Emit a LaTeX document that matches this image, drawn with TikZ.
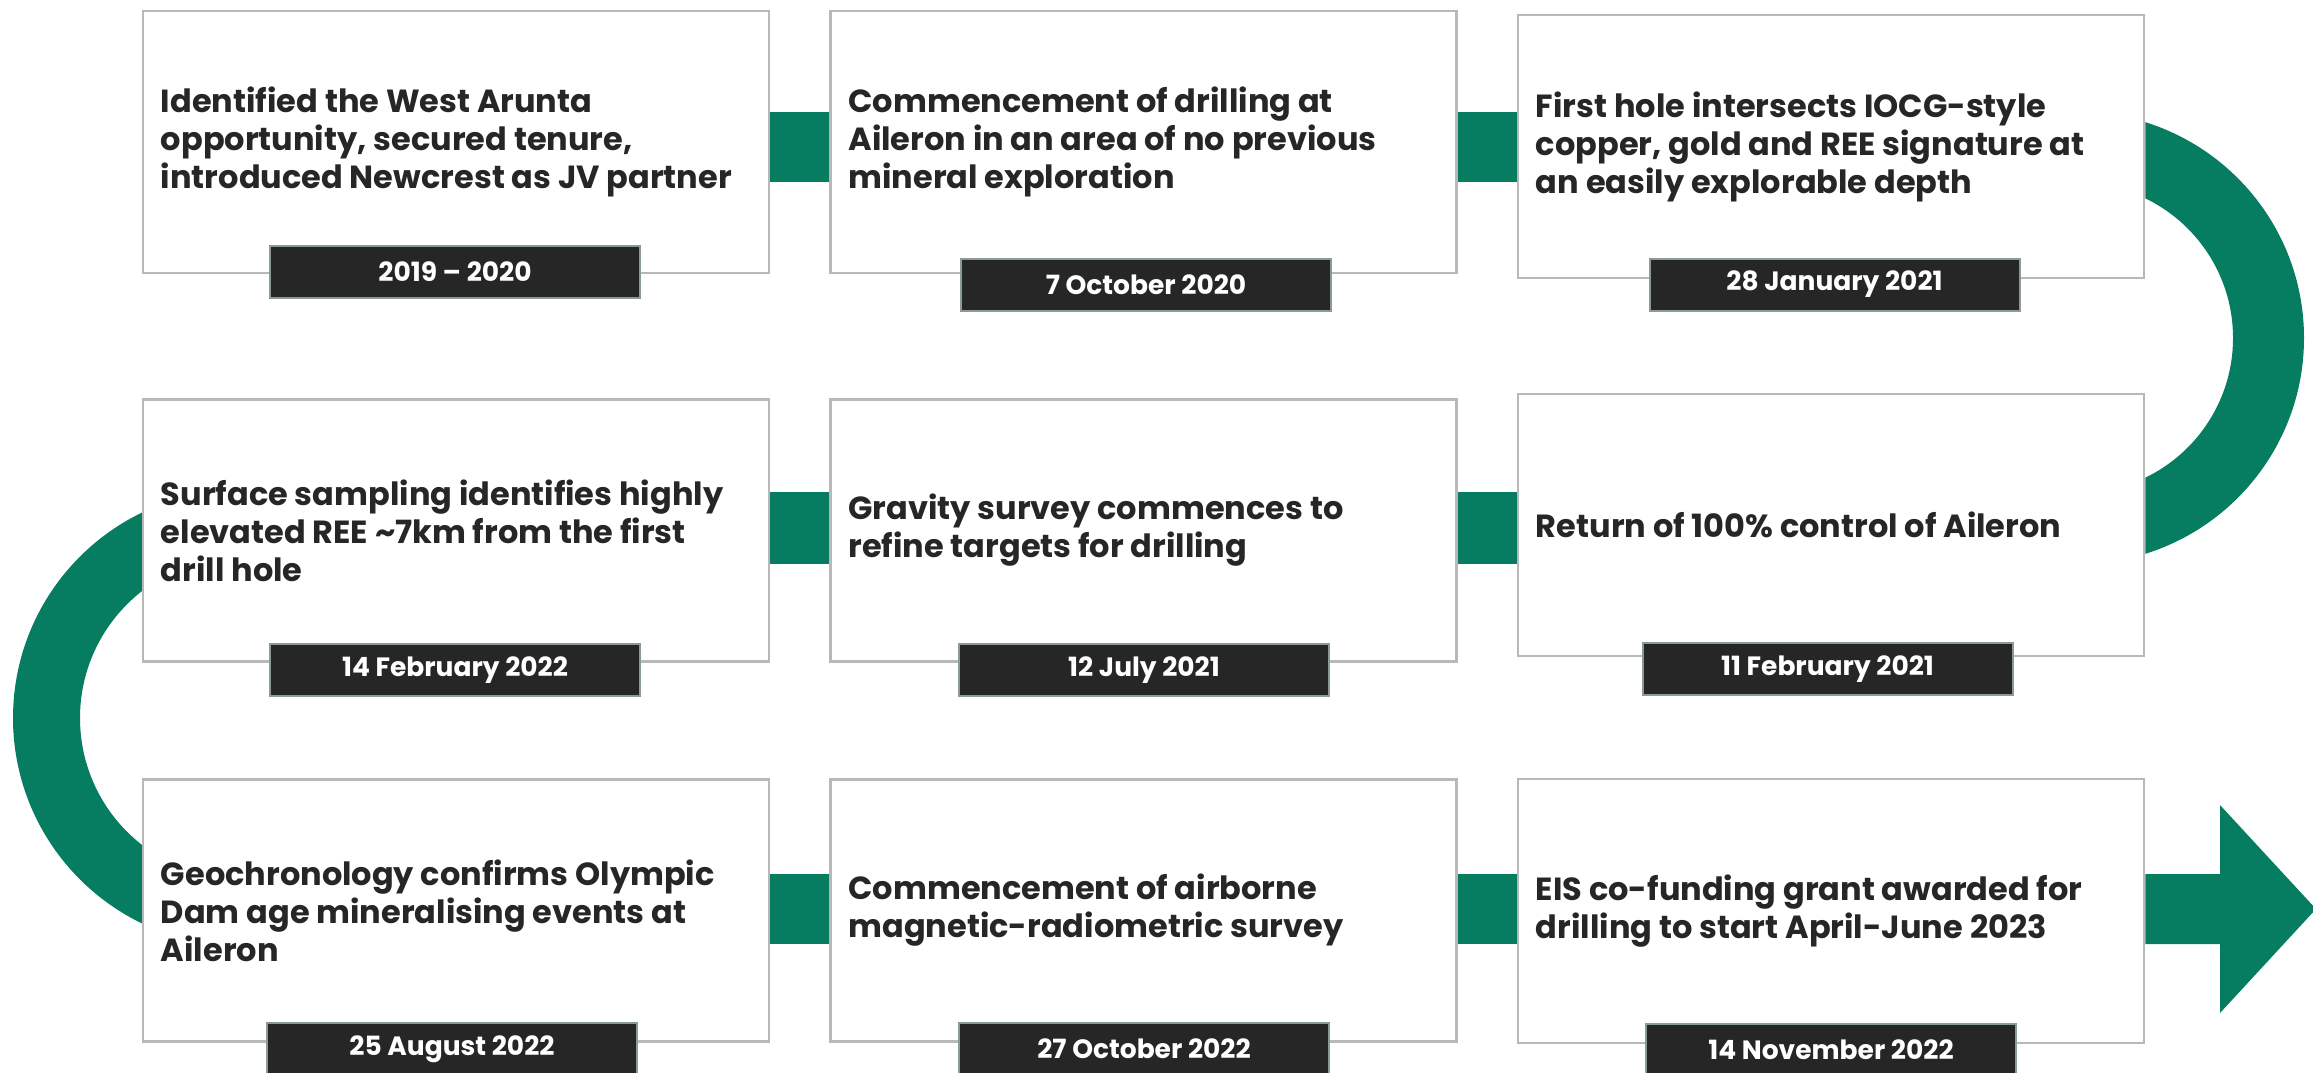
\documentclass[tikz,border=0pt]{standalone}
\usepackage{fontspec}
\setmainfont{Poppins}
\definecolor{tlgreen}{HTML}{067C61}
\definecolor{boxgray}{HTML}{B8B8B8}
\definecolor{dategray}{HTML}{8B9B8F}
\definecolor{datebg}{HTML}{262626}
\definecolor{txtdark}{HTML}{262626}
\tikzset{
  evbox/.style={draw=boxgray, line width=2.5pt, fill=white, minimum width=626pt, minimum height=262pt, inner sep=0pt},
  evtext/.style={anchor=west, align=left, font=\fontsize{32}{38}\selectfont\bfseries, text=txtdark, inner sep=0pt},
  datebox/.style={draw=dategray, line width=2pt, fill=datebg, minimum width=370pt, minimum height=52pt, inner sep=0pt, text=white, font=\fontsize{26.5}{30}\selectfont\bfseries},
  link/.style={fill=tlgreen}
}
\begin{document}
\begin{tikzpicture}[x=1pt,y=-1pt]
\useasboundingbox (0,0) rectangle (2313,1073);
% box outlines (positions)
\node[evbox] (b1) at (456,142) {};
\node[evbox] (b2) at (1143.5,142) {};
\node[evbox, minimum height=263pt] (b3) at (1831,146.5) {};
\node[evbox] (b4) at (456,530.5) {};
\node[evbox] (b5) at (1143.5,530.5) {};
\node[evbox] (b6) at (1831,525) {};
\node[evbox] (b7) at (456,910.5) {};
\node[evbox] (b8) at (1143.5,910.5) {};
\node[evbox, minimum height=264pt] (b9) at (1831,911) {};
% row levels
\coordinate (top) at (0,0);
\coordinate (r1t) at (0,112); \coordinate (r1b) at (0,182);
\coordinate (r2t) at (0,492); \coordinate (r2b) at (0,564);
\coordinate (r3t) at (0,874); \coordinate (r3b) at (0,944);
% rings
\begin{scope}
  \clip (b3.east |- top) rectangle (2313,700);
  \fill[link, even odd rule] (2078,338) circle (226pt) (2078,338) circle (155pt);
\end{scope}
\begin{scope}
  \clip (0,380) rectangle (b4.west |- r3b);
  \fill[link, even odd rule] (241,718) circle (228pt) (241,718) circle (161pt);
\end{scope}
% connectors
\fill[link] (b1.east |- r1t) rectangle (b2.west |- r1b);
\fill[link] (b2.east |- r1t) rectangle (b3.west |- r1b);
\fill[link] (b4.east |- r2t) rectangle (b5.west |- r2b);
\fill[link] (b5.east |- r2t) rectangle (b6.west |- r2b);
\fill[link] (b7.east |- r3t) rectangle (b8.west |- r3b);
\fill[link] (b8.east |- r3t) rectangle (b9.west |- r3b);
\coordinate (ah) at (2220,909);
\fill[link] (b9.east |- r3t) -- (ah |- r3t) -- (2220,805) -- (2316,909) -- (2220,1013) -- (ah |- r3b) -- (b9.east |- r3b) -- cycle;
% boxes on top
\node[evbox] at (b1) {};
\node[evbox] at (b2) {};
\node[evbox, minimum height=263pt] at (b3) {};
\node[evbox] at (b4) {};
\node[evbox] at (b5) {};
\node[evbox] at (b6) {};
\node[evbox] at (b7) {};
\node[evbox] at (b8) {};
\node[evbox, minimum height=264pt] at (b9) {};
% texts
\node[evtext] (t1) at ([xshift=19pt]b1.west) {Identified the West Arunta\\opportunity, secured tenure,\\introduced Newcrest as JV partner};
\node[evtext] (t2) at ([xshift=19pt]b2.west) {Commencement of drilling at\\Aileron in an area of no previous\\mineral exploration};
\node[evtext] (t3) at ([xshift=19pt]b3.west) {First hole intersects IOCG-style\\copper, gold and REE signature at\\an easily explorable depth};
\node[evtext] (t4) at ([xshift=19pt]b4.west) {Surface sampling identifies highly\\elevated REE \textasciitilde7km from the first\\drill hole};
\node[evtext] (t5) at ([xshift=19pt]b5.west) {Gravity survey commences to\\refine targets for drilling};
\node[evtext] (t6) at ([xshift=19pt]b6.west) {Return of 100\% control of Aileron};
\node[evtext] (t7) at ([xshift=19pt]b7.west) {Geochronology confirms Olympic\\Dam age mineralising events at\\Aileron};
\node[evtext] (t8) at ([xshift=19pt]b8.west) {Commencement of airborne\\magnetic-radiometric survey};
\node[evtext] (t9) at ([xshift=19pt]b9.west) {EIS co-funding grant awarded for\\drilling to start April-June 2023};
% dates
\node[datebox] (d1) at (455,272) {2019 – 2020};
\node[datebox] (d2) at (1146,284.5) {7 October 2020};
\node[datebox] (d3) at (1834.5,284.5) {28 January 2021};
\node[datebox] (d4) at (455,670) {14 February 2022};
\node[datebox] (d5) at (1144,670) {12 July 2021};
\node[datebox] (d6) at (1827.5,669) {11 February 2021};
\node[datebox] (d7) at (452,1049) {25 August 2022};
\node[datebox] (d8) at (1144,1049) {27 October 2022};
\node[datebox] (d9) at (1831,1050) {14 November 2022};
\end{tikzpicture}
\end{document}
